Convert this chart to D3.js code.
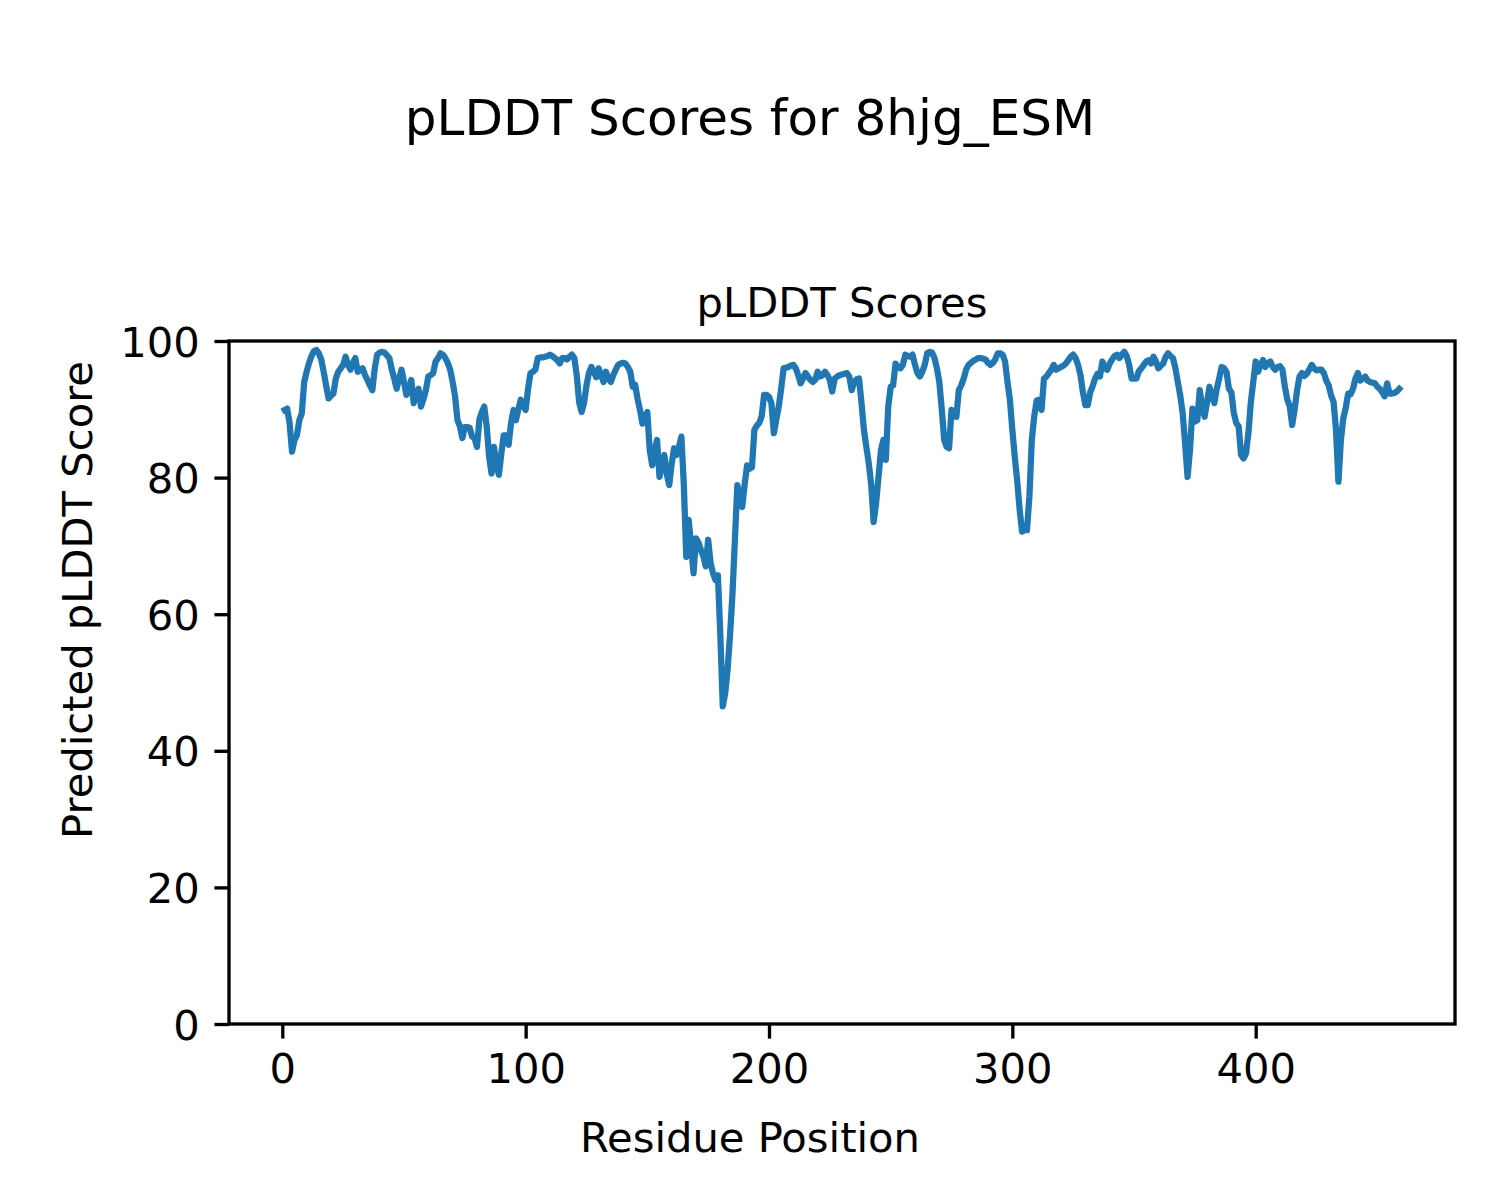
<!DOCTYPE html>
<html><head><meta charset="utf-8">
<script src="https://cdn.jsdelivr.net/npm/d3@7"></script>
<style>body{margin:0;background:#fff;} text{font-family:"DejaVu Sans",sans-serif;fill:#000;}</style>
</head><body>
<svg id="c" width="1500" height="1200"></svg>
<script>
const suptitle = "pLDDT Scores for 8hjg_ESM";
const axTitle = "pLDDT Scores";
const xLabel = "Residue Position";
const yLabel = "Predicted pLDDT Score";
const xTicks = [0, 100, 200, 300, 400];
const yTicks = [0, 20, 40, 60, 80, 100];
// pLDDT per residue (residues 1..459)
const plddt = [
89.9,90.1,88,83.8,85.5,86.2,88.4,89.4,94,95.5,
96.8,97.8,98.5,98.7,98.2,97.3,95.5,93.5,91.6,92,
92.3,94.5,95.5,96,96.5,97.7,96.5,95.8,96.8,97.5,
95.5,95.8,96,95,94.3,93.5,92.8,96,98,98.3,
98.4,98.3,97.9,97.5,95.8,94.5,93,94.5,95.8,94,
92.1,93,94.3,90.9,92.5,93,90.4,91.5,92.8,94.8,
95,95.3,97,97.5,98.2,98,97.5,96.8,95.8,94,
91.9,88.4,87.5,85.8,87.4,87.4,87.3,86,85.8,84.5,
88.5,89.6,90.4,87.5,83,80.6,84.5,82,80.4,83.5,
86.2,86.2,84.8,88,89.9,88.4,90,91.4,90.5,89.9,
93,95.3,95.5,95.8,97.5,97.6,97.6,97.7,97.8,98,
97.8,97.5,97.2,96.7,97.5,97.5,97.3,97.7,98,97.5,
95,91,89.6,90.9,93.5,95.3,96.2,95.5,94.7,96,
95,94,95.5,94.5,94,95,95.8,96.5,96.7,96.8,
96.7,96.2,95.5,93.3,93.6,91.5,89.9,87.9,89,89.6,
84,81.8,84,85.5,80.1,82,83.3,80.5,78.9,82,
84.3,83.3,84.5,86,79,68.4,73.8,70,66,71.1,
70.5,69.4,68.5,67,70.9,67.5,66,65,65.7,57,
46.5,48.4,52,57,63,71,78.9,77,75.7,79,
81.8,81.3,81.5,87,87.6,88,89,92.1,92.1,91.8,
90.9,86.5,88.5,90.4,93,96,96.1,96.2,96.4,96.5,
96,95,93.8,94.5,95.3,94.8,94.3,94,94.3,95.5,
94.8,95,95.5,95,94.3,92.6,94.5,94.8,95,95.1,
95.2,95.3,94.8,92.8,94,94.4,94.5,91,87,84.5,
82.1,79,73.5,76.2,80.1,84,85.5,82.6,90.4,93.3,
93.5,96.7,96.2,96,96.5,98,97.8,97.7,98,96.5,
95.3,94.8,95.5,96.5,98.2,98.4,98.3,97.5,96,94,
90,85.5,84.5,84.3,89.9,89,88.9,92.8,93.5,94.5,
95.8,96.5,96.8,97.1,97.3,97.5,97.5,97.4,97.3,96.8,
96.5,96.8,97.3,98.2,98.2,98,97,94,91.4,87,
83,79.5,75.3,72.1,72.3,72.3,77.2,85.5,89,91.3,
91.4,89.9,94.5,94.8,95.3,95.8,96.5,95.8,96,96.2,
96.4,96.7,97.2,97.7,98,97.5,96.5,95,92.5,90.6,
90.6,92.5,93.4,94.5,95.2,94.8,97,96,95.8,96.7,
97.3,97.8,98,97.5,98,98.4,97.8,96.5,94.5,94.5,
94.5,95.6,96,96.5,97,97.2,96.7,97.7,97,96,
96.4,96.7,97.7,98.2,97.8,97.5,96,94,92,89.4,
85,80.1,84,90.1,88.2,88.4,92.8,90.5,88.9,91,
93.3,92,90.9,93,94.5,96.2,96,95.5,93,92.5,
89.5,88,87.5,83.3,82.8,83.5,86.5,91,94,97,
95.5,96.5,97.2,96.2,96.8,97,96.2,95.8,96.2,96.3,
95.8,93.3,91.4,90.4,87.7,90,92.8,94.8,95.3,94.9,
95.2,95.8,96.5,96,95.7,95.8,95.8,95.3,94.2,93.5,
92,91.1,87,79.4,85.5,88.7,90.2,92.3,92.2,93,
94.5,95.3,94.2,94.5,94.8,94.2,94,93.9,93.8,93.3,
93,92.5,91.9,93.8,92.3,92.3,92.4,92.6,93
];
const residues = plddt.map((_, i) => i + 1);

const svg = d3.select("#c");
const W = 1500, H = 1200;
const L = 229, R = 1455, T = 341, B = 1024;
const xmin = d3.min(residues), xmax = d3.max(residues), pad = (xmax - xmin) * 0.05;
const x = d3.scaleLinear().domain([xmin - pad, xmax + pad]).range([L, R]);
const y = d3.scaleLinear().domain([0, 100]).range([B, T]);

const fs = 41.67;
svg.append("text").attr("x", W / 2).attr("y", 135).attr("text-anchor", "middle")
  .style("font-size", "50px").text(suptitle);
svg.append("text").attr("x", (L + R) / 2).attr("y", 317).attr("text-anchor", "middle")
  .style("font-size", fs + "px").text(axTitle);

const line = d3.line().x((d, i) => x(residues[i])).y(d => y(d));
svg.append("path").datum(plddt).attr("d", line).attr("fill", "none")
  .attr("stroke", "#1f77b4").attr("stroke-width", 6.25).attr("stroke-linejoin", "round").attr("stroke-linecap", "square");

const xAxis = d3.axisBottom(x).tickValues(xTicks).tickSize(14.6).tickPadding(14.6).tickFormat(d3.format("d"));
const gx = svg.append("g").attr("transform", `translate(0,${B})`).call(xAxis);
gx.select(".domain").remove();
gx.selectAll("line").attr("stroke", "#000").attr("stroke-width", 3.33);
gx.selectAll("text").style("font-size", fs + "px").style("font-family", "DejaVu Sans").attr("dy", "0.71em");

const yAxis = d3.axisLeft(y).tickValues(yTicks).tickSize(14.6).tickPadding(14.6).tickFormat(d3.format("d"));
const gy = svg.append("g").attr("transform", `translate(${L},0)`).call(yAxis);
gy.select(".domain").remove();
gy.selectAll("line").attr("stroke", "#000").attr("stroke-width", 3.33);
gy.selectAll("text").style("font-size", fs + "px").style("font-family", "DejaVu Sans").attr("dy", "0.36em");

svg.append("rect").attr("x", L).attr("y", T).attr("width", R - L).attr("height", B - T)
  .attr("fill", "none").attr("stroke", "#000").attr("stroke-width", 3.33);

svg.append("text").attr("x", W / 2).attr("y", 1152).attr("text-anchor", "middle")
  .style("font-size", fs + "px").text(xLabel);
svg.append("text").attr("transform", `translate(92,${H / 2}) rotate(-90)`).attr("text-anchor", "middle")
  .style("font-size", fs + "px").text(yLabel);
</script>
</body></html>
